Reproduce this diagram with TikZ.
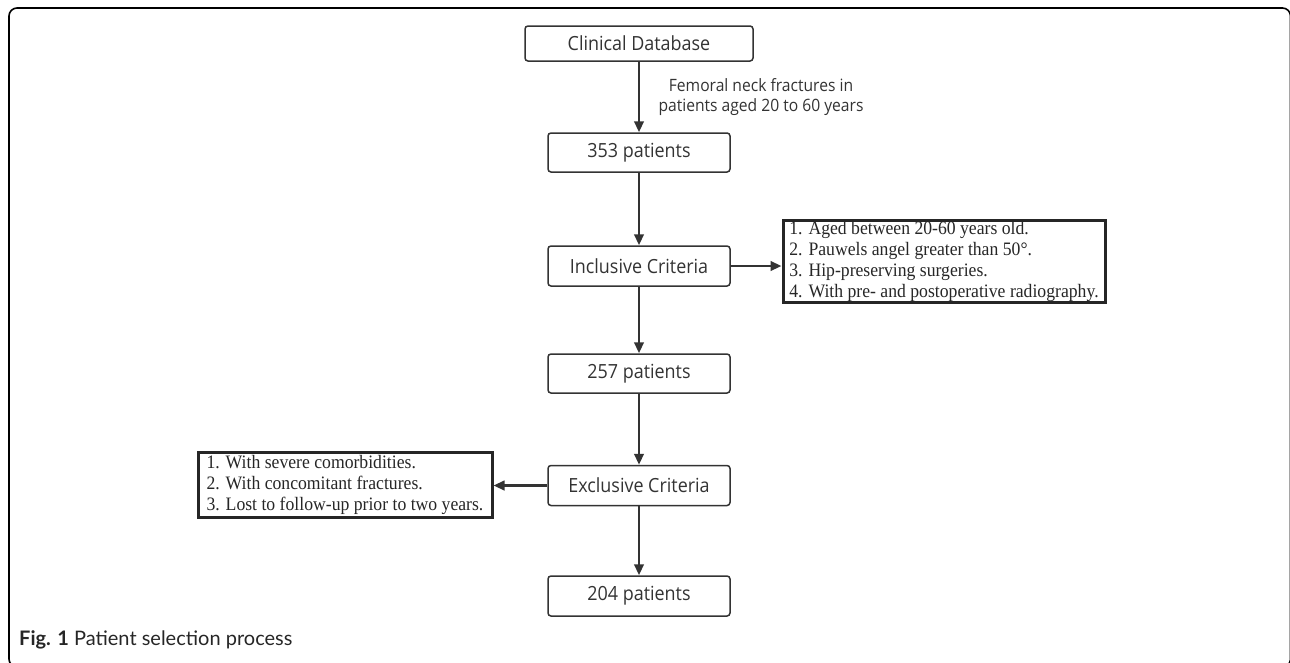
\documentclass[tikz,border=0pt]{standalone}
\usepackage{fontspec}
\setmainfont{Liberation Serif}
\newfontfamily\listfont[FakeStretch=0.93]{Liberation Serif}
\newfontfamily\boxfont[FakeStretch=0.92]{Open Sans}
\newfontfamily\capfont{Lato}
\usetikzlibrary{arrows.meta}
\definecolor{ink}{HTML}{333333}
\tikzset{
  flowbox/.style={draw=ink, line width=1.5pt, rounded corners=3pt, minimum width=182pt, minimum height=39pt,
    inner sep=0pt, text=ink, font=\boxfont\fontsize{19.5}{21}\selectfont},
  listbox/.style={draw=black!85, line width=3pt, align=left, inner xsep=0pt, inner ysep=1pt,
    text=black!85, font=\listfont\fontsize{19}{20.8}\selectfont},
  flowarrow/.style={draw=ink, line width=2.4pt, -{Triangle[length=11pt,width=9.5pt]}},
}
\begin{document}
\begin{tikzpicture}[x=1pt,y=-1pt]
\useasboundingbox (0,0) rectangle (1290,662);
\begin{scope}
\clip (0,0) rectangle (1290,662);
\draw[line width=1.6pt, rounded corners=8pt] (9,8) rectangle (1290.5,667);
\end{scope}

\node[flowbox, minimum width=228pt, minimum height=35pt] (db) at (639,43.5) {Clinical Database};
\node[flowbox] (p353) at (639,152.5) {353 patients};
\node[flowbox, minimum height=40pt] (inc) at (639,266) {Inclusive Criteria};
\node[flowbox] (p257) at (639,373.5) {257 patients};
\node[flowbox, minimum height=40pt] (exc) at (639,485.5) {Exclusive Criteria};
\node[flowbox, minimum height=40pt] (p204) at (639,596) {204 patients};

\node[text=ink, align=center, font=\boxfont\fontsize{17}{20}\selectfont] (lbl) at (761,97)
  {Femoral neck fractures in\\patients aged 20 to 60 years};

\node[listbox, minimum width=322pt] (inclist) at (944,261.5)
  {1. Aged between 20-60 years old.\\
   2. Pauwels angel greater than 50°.\\
   3. Hip-preserving surgeries.\\
   4. With pre- and postoperative radiography.};

\node[listbox, minimum width=294pt, inner ysep=3.5pt] (exclist) at (345,485)
  {1. With severe comorbidities.\\
   2. With concomitant fractures.\\
   3. Lost to follow-up prior to two years.};

\draw[flowarrow] (db) -- (p353);
\draw[flowarrow] (p353) -- (inc);
\draw[flowarrow] (inc) -- (p257);
\draw[flowarrow] (p257) -- (exc);
\draw[flowarrow] (exc) -- (p204);
\draw[flowarrow] (inc.east) -- (inc.east -| inclist.west);
\draw[flowarrow] (exc.west) -- (exc.west -| exclist.east);

\node[anchor=west, inner sep=0pt, text=black!85, font=\capfont\fontsize{20}{22}\selectfont] (cap) at (19,640)
  {\textbf{Fig. 1} Patient selection process};
\end{tikzpicture}
\end{document}
